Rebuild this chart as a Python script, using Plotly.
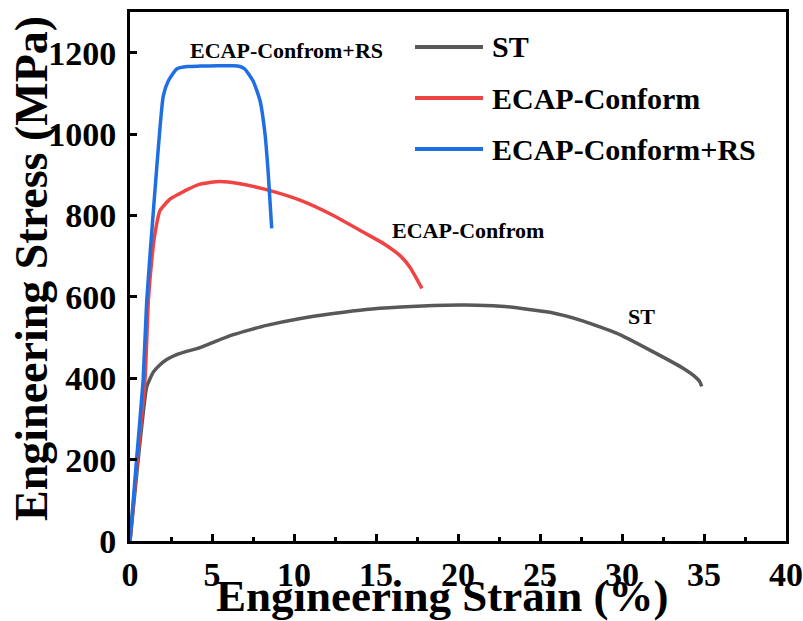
import plotly.graph_objects as go

# ---- data ----
st_strain = [0, 0.5, 0.71, 1.02, 1.42, 1.8, 2.24, 3.05, 4.27, 5.3, 6.3, 7.3, 8.33, 10.4, 12.4, 14.4, 16.5,
             18.5, 20.5, 22.6, 24.0, 25.6, 27.6, 29.7, 31.7, 33.7, 34.5, 34.75, 34.86]
st_stress = [0, 200, 280, 379, 415, 432, 446, 461, 475, 492, 507, 519, 530, 547, 559, 569, 575,
             579, 580, 577, 571, 562, 541, 510, 469, 425, 402, 391, 380]

ec_strain = [0, 0.45, 0.92, 1.12, 1.35, 1.52, 1.83, 2.44, 3.0, 3.46, 4.27, 5.28, 6.0, 6.7, 8.54,
             10.4, 12.4, 14.4, 15.5, 16.5, 17.07, 17.8]
ec_stress = [0, 200, 400, 591, 700, 755, 812, 840, 853, 863, 877, 883, 882, 878, 861,
             837, 800, 755, 730, 700, 673, 621]

rs_strain = [0, 0.4, 0.8, 1.02, 1.5, 2.03, 2.34, 2.85, 3.5, 4.27, 5.3, 6.3, 6.7, 7.0, 7.5,
             7.93, 8.23, 8.43, 8.64]
rs_stress = [0, 200, 395, 591, 850, 1094, 1131, 1160, 1166, 1167, 1168, 1168, 1166, 1160, 1131,
             1082, 1001, 903, 768]

names = ["ST", "ECAP-Conform", "ECAP-Conform+RS"]
colors = ["#585858", "#F04343", "#1F6FE3"]
series = [(st_strain, st_stress), (ec_strain, ec_stress), (rs_strain, rs_stress)]

x_ticks = [0, 5, 10, 15, 20, 25, 30, 35, 40]
y_ticks = [0, 200, 400, 600, 800, 1000, 1200]

FONT = "Liberation Serif, Times New Roman, serif"

fig = go.Figure()
for (xs, ys), name, col in zip(series, names, colors):
    fig.add_trace(go.Scatter(x=xs, y=ys, mode="lines", name=name,
                             line=dict(color=col, width=3.5, shape="spline", smoothing=0.5),
                             showlegend=False))

axis_common = dict(showline=True, linecolor="black", linewidth=3, mirror=True,
                   ticks="inside", ticklen=7, tickwidth=3, tickcolor="black",
                   showgrid=False, zeroline=False, automargin=False,
                   tickfont=dict(family=FONT, size=34, color="black", weight="bold"))

fig.update_xaxes(range=[0, 40], tickvals=x_ticks, ticktext=[str(v) for v in x_ticks],
                 minor=dict(ticks="inside", ticklen=4, tickwidth=3, tickcolor="black", dtick=2.5),
                 ticklabelstandoff=1, **axis_common)
fig.update_yaxes(range=[0, 1300], tickvals=y_ticks, ticktext=[str(v) for v in y_ticks],
                 ticklabelstandoff=4, **axis_common)

W, H = 803, 621
L, R, T, B = 130, 17, 12, 80
pw, ph = W - L - R, H - T - B

def px(xp):
    return (xp - L) / pw

def py(yp):
    return (H - B - yp) / ph

annos = []
# axis titles
annos.append(dict(text="Engineering Strain (%)", xref="paper", yref="paper",
                  x=px(442), y=py(596), xanchor="center", yanchor="middle", showarrow=False,
                  font=dict(family=FONT, size=45, color="black", weight="bold")))
annos.append(dict(text="Engineering Stress (MPa)", xref="paper", yref="paper",
                  x=px(31), y=py(269), xanchor="center", yanchor="middle", showarrow=False,
                  textangle=-90,
                  font=dict(family=FONT, size=46, color="black", weight="bold")))
# in-plot labels
lab_font = dict(family=FONT, size=22, color="black", weight="bold")
annos.append(dict(text="ECAP-Confrom+RS", x=9.57, y=1205, showarrow=False,
                  xanchor="center", yanchor="middle", font=lab_font))
annos.append(dict(text="ECAP-Confrom", x=20.6, y=763, showarrow=False,
                  xanchor="center", yanchor="middle", font=lab_font))
annos.append(dict(text="ST", x=31.16, y=552, showarrow=False,
                  xanchor="center", yanchor="middle", font=lab_font))

# manual legend
shapes = []
leg_rows = [47, 98, 149]
for name, col, yr in zip(names, colors, leg_rows):
    shapes.append(dict(type="line", xref="paper", yref="paper",
                       x0=px(415), x1=px(483), y0=py(yr), y1=py(yr),
                       line=dict(color=col, width=4)))
    annos.append(dict(text=name, xref="paper", yref="paper", x=px(490), y=py(yr),
                      xanchor="left", yanchor="middle", showarrow=False,
                      font=dict(family=FONT, size=30, color="black", weight="bold")))

fig.update_layout(width=W, height=H, margin=dict(l=L, r=R, t=T, b=B, autoexpand=False),
                  paper_bgcolor="white", plot_bgcolor="white",
                  annotations=annos, shapes=shapes, showlegend=False)

fig.write_html("out.html")
